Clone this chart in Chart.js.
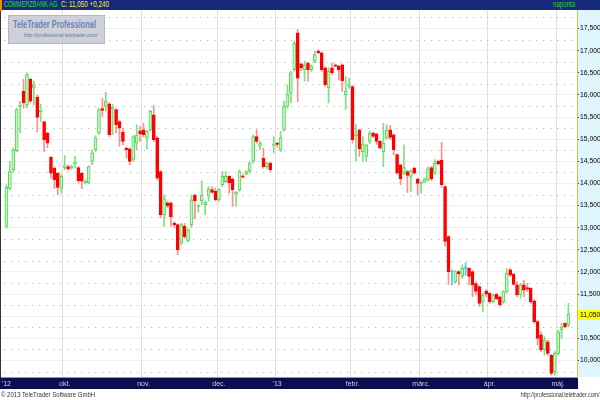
<!DOCTYPE html>
<html>
<head>
<meta charset="utf-8">
<title>COMMERZBANK AG</title>
<script src="https://cdn.jsdelivr.net/npm/chart.js@4.4.1/dist/chart.umd.min.js"></script>
<style>
  html, body { margin: 0; padding: 0; background: #fff; }
  #wrap { position: relative; width: 600px; height: 400px; overflow: hidden; font-family: "Liberation Sans", Arial, sans-serif; }
  #chart { position: absolute; left: 0; top: 0; }
  #head { position: absolute; left: 0; top: 0; width: 600px; height: 10px; background: #16297a; }
  #edge { position: absolute; left: 0; top: 0; width: 2px; height: 11px; background: #f08a00; }
  .txt { position: absolute; white-space: nowrap; transform-origin: 0 50%; }
  .ht { top: 0; height: 10px; line-height: 10px; font-size: 8.2px; }
  #tName { left: 4px; color: #22e322; transform: scaleX(0.68); }
  #tQuote { left: 61px; color: #f2f21e; transform: scaleX(0.77); }
  #tFreq { left: 553px; color: #22d322; transform: scaleX(0.75); }
  #mark { position: absolute; left: 8px; top: 15px; width: 95px; height: 27px; background: #cdd0d6; border: 1px dotted #9aa0b0; }
  #markName { left: 4px; top: 2px; font-size: 11px; line-height: 13px; font-weight: bold; color: #6f82b6; transform: scaleX(0.67); }
  #markUrl { left: 15px; top: 16px; font-size: 6px; line-height: 7px; font-style: italic; color: #6676aa; transform: scaleX(0.83); }
  .ft { top: 390px; height: 10px; line-height: 10px; font-size: 7px; color: #333; }
  #fLeft { left: 1px; transform: scaleX(0.86); }
  #fRight { right: 1px; transform-origin: 100% 50%; transform: scaleX(0.76); }
</style>
</head>
<body>
<div id="wrap">
  <canvas id="chart" width="600" height="400"></canvas>
  <div id="head"></div>
  <div id="edge"></div>
  <span class="txt ht" id="tName">COMMERZBANK AG</span>
  <span class="txt ht" id="tQuote">C: 11,050 +0,240</span>
  <span class="txt ht" id="tFreq">naponta</span>
  <div id="mark">
    <span class="txt" id="markName">TeleTrader Professional</span>
    <span class="txt" id="markUrl">http://professional.teletrader.com/</span>
  </div>
  <span class="txt ft" id="fLeft">© 2013 TeleTrader Software GmbH</span>
  <span class="txt ft" id="fRight">http://professional.teletrader.com/</span>
</div>
<script>
// daily candles, Sept 2012 - May 2013
const open = [
  13.03, 13.89, 14.31, 14.74, 15.74, 16.08, 15.78, 16.35, 16.16, 15.95,
  15.62, 15.40, 15.14, 14.59, 14.35, 14.23, 13.89, 14.36, 14.38, 14.35,
  14.44, 14.36, 14.23, 14.02, 14.01, 14.50, 14.76, 15.14, 15.69, 15.74,
  15.80, 15.68, 15.67, 15.40, 15.16, 14.80, 14.78, 14.54, 14.91, 15.19,
  15.21, 15.03, 15.21, 15.55, 15.03, 14.27, 13.29, 13.56, 13.56, 13.10,
  13.07, 12.65, 13.03, 12.70, 13.07, 13.74, 13.47, 13.61, 13.52, 13.71,
  13.86, 13.82, 13.63, 13.97, 14.04, 14.16, 14.10, 13.76, 13.86, 14.17,
  14.21, 14.27, 14.50, 15.06, 14.84, 14.57, 14.38, 14.46, 14.86, 14.91,
  14.76, 15.21, 15.74, 16.04, 16.57, 17.40, 16.70, 16.57, 16.72, 16.57,
  16.76, 16.99, 16.95, 16.61, 16.16, 16.61, 16.68, 16.65, 16.68, 16.00,
  16.19, 16.19, 15.08, 15.21, 14.72, 14.61, 14.95, 15.14, 15.12, 14.95,
  14.72, 15.02, 15.21, 15.10, 14.65, 14.42, 14.23, 14.27, 14.16, 14.35,
  14.10, 14.00, 14.03, 14.08, 14.36, 14.23, 14.50, 14.53, 13.93, 12.80,
  12.00, 11.78, 12.01, 11.90, 12.08, 12.08, 12.01, 11.74, 11.67, 11.33,
  11.57, 11.52, 11.33, 11.50, 11.44, 11.33, 11.56, 12.05, 11.95, 11.71,
  11.48, 11.71, 11.65, 11.63, 11.35, 10.88, 10.58, 10.24, 10.42, 10.12,
  9.75, 10.16, 10.69, 10.84, 10.80
];
const high = [
  13.97, 14.50, 14.80, 15.70, 15.86, 16.35, 16.50, 16.38, 16.31, 16.00,
  15.79, 15.40, 15.16, 14.61, 14.37, 14.25, 14.20, 14.63, 14.42, 14.42,
  14.61, 14.38, 14.25, 14.08, 14.40, 14.76, 15.08, 15.70, 15.93, 16.06,
  15.82, 15.78, 15.69, 15.42, 15.25, 14.82, 14.80, 15.08, 15.33, 15.29,
  15.36, 15.20, 15.66, 15.76, 15.06, 14.29, 13.74, 13.60, 13.58, 13.14,
  13.09, 13.10, 13.10, 12.98, 13.74, 13.76, 13.52, 14.06, 13.60, 13.93,
  13.93, 13.90, 13.88, 14.27, 14.27, 14.18, 14.12, 13.82, 14.31, 14.20,
  14.29, 14.50, 15.10, 15.21, 14.95, 14.80, 14.48, 14.48, 15.06, 14.93,
  15.18, 15.86, 16.23, 16.53, 17.21, 17.48, 16.72, 16.76, 16.74, 16.68,
  16.99, 17.02, 16.97, 16.63, 16.61, 16.72, 16.70, 16.67, 16.70, 16.42,
  16.38, 16.21, 15.33, 15.23, 15.06, 14.89, 15.19, 15.16, 15.14, 14.97,
  15.36, 15.33, 15.31, 15.12, 14.67, 14.44, 14.87, 14.29, 14.31, 14.37,
  14.12, 14.05, 14.12, 14.38, 14.38, 14.54, 14.53, 14.93, 13.95, 12.82,
  12.05, 12.03, 12.03, 12.16, 12.20, 12.10, 12.03, 11.78, 11.69, 11.52,
  11.60, 11.54, 11.50, 11.52, 11.46, 11.58, 12.08, 12.08, 11.97, 11.78,
  11.74, 11.82, 11.74, 11.65, 11.37, 10.90, 10.65, 10.54, 10.46, 10.14,
  10.20, 10.69, 10.84, 10.86, 11.29
];
const low = [
  12.99, 13.86, 14.25, 14.72, 15.14, 15.70, 15.70, 15.82, 15.78, 15.16,
  15.40, 14.72, 14.81, 14.12, 13.88, 13.74, 13.78, 14.31, 14.30, 14.31,
  14.35, 14.01, 13.88, 13.99, 13.99, 14.42, 14.72, 15.10, 15.52, 15.63,
  15.06, 15.10, 15.14, 14.84, 14.87, 14.57, 14.42, 14.50, 14.76, 14.95,
  15.05, 14.78, 15.18, 14.95, 14.08, 13.22, 13.03, 13.45, 13.03, 13.00,
  12.39, 12.61, 12.76, 12.68, 13.00, 13.20, 13.35, 13.52, 13.29, 13.60,
  13.78, 13.61, 13.60, 13.93, 14.02, 13.78, 13.48, 13.48, 13.82, 14.12,
  14.19, 14.23, 14.46, 14.91, 14.76, 14.34, 14.34, 14.27, 14.69, 14.82,
  14.72, 15.18, 15.70, 15.82, 16.53, 15.85, 16.55, 16.31, 16.31, 16.53,
  16.72, 16.93, 16.53, 16.19, 15.82, 16.46, 16.63, 16.34, 16.08, 15.67,
  16.15, 14.91, 14.51, 14.61, 14.50, 14.50, 14.90, 15.04, 14.88, 14.78,
  14.38, 15.00, 14.99, 14.65, 14.21, 13.97, 14.20, 13.80, 13.82, 14.21,
  13.74, 13.78, 14.01, 14.05, 14.06, 14.20, 14.42, 13.91, 12.58, 11.72,
  11.71, 11.74, 11.71, 11.86, 11.93, 11.71, 11.44, 11.48, 11.22, 11.10,
  11.44, 11.29, 11.30, 11.37, 11.22, 11.29, 11.52, 11.90, 11.70, 11.44,
  11.41, 11.44, 11.56, 11.29, 10.84, 10.35, 10.20, 10.12, 10.12, 9.67,
  9.67, 10.12, 10.50, 10.74, 10.76
];
const close = [
  13.91, 14.27, 14.76, 15.67, 15.76, 15.82, 16.46, 15.86, 16.23, 15.49,
  15.66, 14.99, 14.91, 14.23, 14.08, 13.91, 14.16, 14.40, 14.33, 14.38,
  14.48, 14.06, 14.05, 14.05, 14.38, 14.69, 15.03, 15.67, 15.65, 15.86,
  15.10, 15.72, 15.33, 15.25, 14.95, 14.76, 14.50, 15.06, 15.09, 15.12,
  15.10, 15.18, 15.63, 14.99, 14.12, 13.29, 13.65, 13.50, 13.25, 13.07,
  12.50, 13.07, 12.80, 12.95, 13.63, 13.61, 13.50, 13.74, 13.58, 13.88,
  13.80, 13.63, 13.86, 14.16, 14.16, 14.01, 13.86, 13.80, 14.27, 14.14,
  14.27, 14.46, 15.06, 14.95, 14.91, 14.38, 14.46, 14.31, 14.88, 14.88,
  15.03, 15.74, 16.02, 16.50, 17.17, 16.38, 16.61, 16.68, 16.57, 16.65,
  16.91, 16.95, 16.57, 16.23, 16.53, 16.50, 16.65, 16.57, 16.32, 16.08,
  16.23, 14.99, 15.10, 14.78, 14.89, 14.87, 15.14, 15.06, 14.95, 14.80,
  14.91, 15.21, 15.04, 14.76, 14.23, 14.10, 14.36, 14.18, 14.29, 14.23,
  14.00, 14.03, 14.10, 14.33, 14.10, 14.46, 14.44, 13.97, 12.69, 12.01,
  12.00, 12.01, 11.96, 12.08, 12.08, 11.90, 11.71, 11.56, 11.29, 11.48,
  11.50, 11.33, 11.48, 11.39, 11.26, 11.56, 11.97, 11.93, 11.72, 11.48,
  11.71, 11.59, 11.61, 11.33, 10.88, 10.50, 10.24, 10.46, 10.16, 9.71,
  10.16, 10.65, 10.76, 10.76, 11.05
];

// month labels and the slot they sit on (one empty slot before the first day)
const monthNames = ["'12", "okt.", "nov.", "dec.", "'13", "febr.", "márc.", "ápr.", "máj."];
const monthSlots = [1, 18, 41, 63, 80, 102, 122, 142, 162];
const yTicks = [10, 10.5, 11, 11.5, 12, 12.5, 13, 13.5, 14, 14.5, 15, 15.5, 16, 16.5, 17, 17.5];

const leadSlots = 1;
const tailSlots = 2;
const slotCount = leadSlots + close.length + tailSlots;

const labels = new Array(slotCount).fill('');
monthSlots.forEach((s, i) => { labels[s] = monthNames[i]; });
const gridSlots = new Set(monthSlots.slice(1));

const bodies = [], wicks = [], bodyFill = [], bodyEdge = [], wickColor = [];
for (let s = 0; s < slotCount; s++) {
    const i = s - leadSlots;
    if (i < 0 || i >= close.length) {
        bodies.push(null); wicks.push(null);
        bodyFill.push('#000'); bodyEdge.push('#000'); wickColor.push('#000');
        continue;
    }
    bodies.push([open[i], close[i]]);
    wicks.push([low[i], high[i]]);
    if (close[i] > open[i]) {
        bodyFill.push('#c8f3c8'); bodyEdge.push('#55d655'); wickColor.push('#7fe07f');
    } else if (close[i] < open[i]) {
        bodyFill.push('#ff0000'); bodyEdge.push('#ff0000'); wickColor.push('#ff8e8e');
    } else {
        bodyFill.push('#3ccaf0'); bodyEdge.push('#3ccaf0'); wickColor.push('#3ccaf0');
    }
}

const fmt = v => Number(v).toFixed(3).replace('.', ',');

const decor = {
    id: 'decor',
    beforeDraw(chart) {
        const { ctx, chartArea: a, width } = chart;
        ctx.save();
        ctx.fillStyle = '#ddf5fb';
        ctx.fillRect(a.right, a.top, width - a.right, a.bottom - a.top);
        ctx.fillStyle = '#0c0d4f';
        ctx.fillRect(0, a.bottom, a.right + 1, 12);
        ctx.restore();
    },
    beforeDatasetsDraw(chart) {
        const { ctx, chartArea: a, scales } = chart;
        const levels = [yTicks[0] - 0.25].concat(yTicks.map(v => v + 0.25));
        ctx.save();
        ctx.strokeStyle = '#a6a6b0';
        ctx.lineWidth = 1;
        ctx.setLineDash([1, 6]);
        levels.forEach(v => {
            const py = Math.round(scales.y.getPixelForValue(v)) + 0.5;
            ctx.beginPath();
            ctx.moveTo(a.left + 3, py);
            ctx.lineTo(a.right, py);
            ctx.stroke();
        });
        ctx.setLineDash([]);
        ctx.strokeStyle = '#333';
        ctx.beginPath();
        ctx.moveTo(0.5, a.top);
        ctx.lineTo(0.5, a.bottom);
        ctx.stroke();
        ctx.restore();
    },
    afterDraw(chart) {
        const { ctx, chartArea: a, scales, width } = chart;
        const last = close[close.length - 1];
        const py = Math.round(scales.y.getPixelForValue(last));
        ctx.save();
        ctx.fillStyle = '#ffff00';
        ctx.fillRect(a.right + 1, py - 4, width - a.right - 1, 10);
        ctx.fillStyle = '#000';
        ctx.font = '6.8px "Liberation Sans", Arial, sans-serif';
        ctx.textBaseline = 'middle';
        ctx.fillText(fmt(last), a.right + 3, py + 1);
        ctx.restore();
    }
};

Chart.defaults.font.family = '"Liberation Sans", Arial, sans-serif';

new Chart(document.getElementById('chart'), {
    type: 'bar',
    data: {
        labels: labels,
        datasets: [{
            label: 'body',
            data: bodies,
            backgroundColor: bodyFill,
            borderColor: bodyEdge,
            borderWidth: 1,
            borderSkipped: false,
            barThickness: 3,
            minBarLength: 1,
            grouped: false
        }, {
            label: 'wick',
            data: wicks,
            backgroundColor: wickColor,
            borderWidth: 0,
            barThickness: 1,
            grouped: false
        }]
    },
    options: {
        responsive: false,
        animation: false,
        devicePixelRatio: 1,
        layout: { padding: { top: 10, bottom: 11, left: 0, right: 0 } },
        plugins: { legend: { display: false }, tooltip: { enabled: false } },
        scales: {
            x: {
                afterFit: s => { s.height = 12; },
                ticks: { autoSkip: false, maxRotation: 0, minRotation: 0, padding: 3, color: '#cfcfcf', font: { size: 7 } },
                grid: {
                    drawTicks: false,
                    color: c => gridSlots.has(c.index) ? '#e2dee8' : 'rgba(0,0,0,0)'
                },
                border: { color: '#9a9a9a' }
            },
            y: {
                position: 'right',
                min: 9.628,
                max: 17.918,
                afterBuildTicks: s => { s.ticks = yTicks.map(v => ({ value: v })); },
                afterFit: s => { s.width = 23; },
                ticks: { callback: v => fmt(v), color: '#000', padding: 1, font: { size: 6.8 } },
                grid: { color: '#e2dee8', tickLength: 2, tickColor: '#333' },
                border: { color: '#d4c440', dash: [1, 1] }
            }
        }
    },
    plugins: [decor]
});
</script>
</body>
</html>
